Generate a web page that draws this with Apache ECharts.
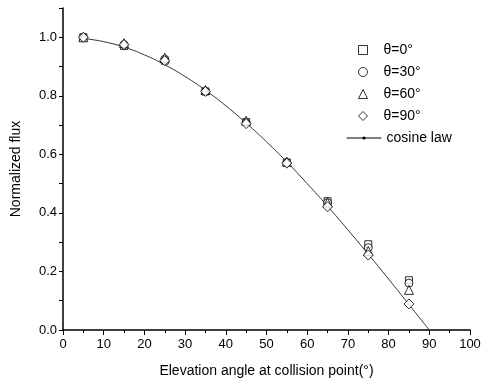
<!DOCTYPE html>
<html>
<head>
<meta charset="utf-8">
<script src="https://cdn.jsdelivr.net/npm/echarts@6/dist/echarts.min.js"></script>
<style>
  html, body { margin: 0; padding: 0; background: #fff; }
  #chart { width: 487px; height: 387px; }
</style>
</head>
<body>
<div id="chart"></div>
<script>
// measured points (elevation angle, deg)
const angles = [5, 15, 25, 35, 45, 55, 65, 75, 85];
const theta0 = [1.0, 0.97, 0.92, 0.815, 0.71, 0.572, 0.44, 0.293, 0.17];
const theta30 = [1.0, 0.975, 0.925, 0.815, 0.71, 0.572, 0.435, 0.281, 0.16];
const theta60 = [1.0, 0.98, 0.93, 0.82, 0.715, 0.575, 0.435, 0.27, 0.137];
const theta90 = [1.0, 0.975, 0.92, 0.815, 0.705, 0.57, 0.421, 0.256, 0.089];
// cosine law curve
const lawAngles = [5, 10, 15, 20, 25, 30, 35, 40, 45, 50, 55, 60, 65, 70, 75, 80, 85, 90];
const lawValues = [0.996, 0.985, 0.966, 0.94, 0.906, 0.866, 0.819, 0.766, 0.707, 0.643, 0.574, 0.5, 0.423, 0.342, 0.259, 0.174, 0.087, 0];
const yLabels = [0, 0.2, 0.4, 0.6, 0.8, 1.0];

const pairs = (xs, ys) => xs.map((x, i) => [x, ys[i]]);
const font = 'Liberation Sans, Arial, sans-serif';

function pts(name, symbol, size, data) {
  return {
    name: name,
    type: 'scatter',
    symbol: symbol,
    symbolSize: size,
    symbolKeepAspect: true,
    data: pairs(angles, data),
    itemStyle: { color: '#fff', borderColor: '#000', borderWidth: 1 },
    z: 3
  };
}

var myChart = echarts.init(document.getElementById('chart'));
myChart.setOption({
  animation: false,
  textStyle: { fontFamily: font, color: '#000' },
  grid: { left: 63, right: 17, top: 8, bottom: 57 },
  legend: [
    {
      orient: 'vertical',
      left: 353,
      top: 38,
      itemWidth: 9,
      itemHeight: 9,
      itemGap: 8,
      itemStyle: { borderWidth: 1, borderColor: '#000', color: '#fff' },
      textStyle: { fontSize: 14, color: '#000', fontFamily: font, padding: [0, 0, 0, 11] },
      data: ['θ=0°', 'θ=30°', 'θ=60°', 'θ=90°']
    },
    {
      orient: 'vertical',
      left: 341,
      top: 126,
      itemWidth: 35,
      itemHeight: 4,
      textStyle: { fontSize: 14, color: '#000', fontFamily: font },
      lineStyle: { width: 1, color: '#000' },
      data: ['cosine law']
    }
  ],
  xAxis: {
    type: 'value',
    min: 0, max: 100, interval: 10,
    name: 'Elevation angle at collision point(°)',
    nameLocation: 'middle',
    nameGap: 34,
    nameTextStyle: { fontSize: 14, color: '#000' },
    splitLine: { show: false },
    axisLine: { lineStyle: { color: '#000', width: 1.5 } },
    axisTick: { length: 5, lineStyle: { color: '#000' } },
    minorTick: { show: true, splitNumber: 2, length: 3, lineStyle: { color: '#000' } },
    axisLabel: { fontSize: 13, color: '#000', margin: 8 }
  },
  yAxis: {
    type: 'value',
    min: 0, max: 1.1, interval: 0.1,
    name: 'Normalized flux',
    nameLocation: 'middle',
    nameGap: 40,
    nameTextStyle: { fontSize: 14, color: '#000' },
    splitLine: { show: false },
    axisLine: { lineStyle: { color: '#000', width: 1.5 } },
    axisTick: { length: 4, lineStyle: { color: '#000' } },
    axisLabel: {
      fontSize: 13, color: '#000', margin: 6,
      customValues: yLabels,
      formatter: v => v.toFixed(1)
    }
  },
  series: [
    pts('θ=0°', 'rect', 7, theta0),
    pts('θ=30°', 'circle', 8, theta30),
    pts('θ=60°', 'triangle', 9, theta60),
    pts('θ=90°', 'diamond', 10, theta90),
    {
      name: 'cosine law',
      type: 'line',
      smooth: true,
      symbol: 'circle',
      symbolSize: 3,
      showSymbol: false,
      data: pairs(lawAngles, lawValues),
      itemStyle: { color: '#000' },
      lineStyle: { color: '#000', width: 0.8 },
      z: 2
    }
  ]
});
</script>
</body>
</html>
